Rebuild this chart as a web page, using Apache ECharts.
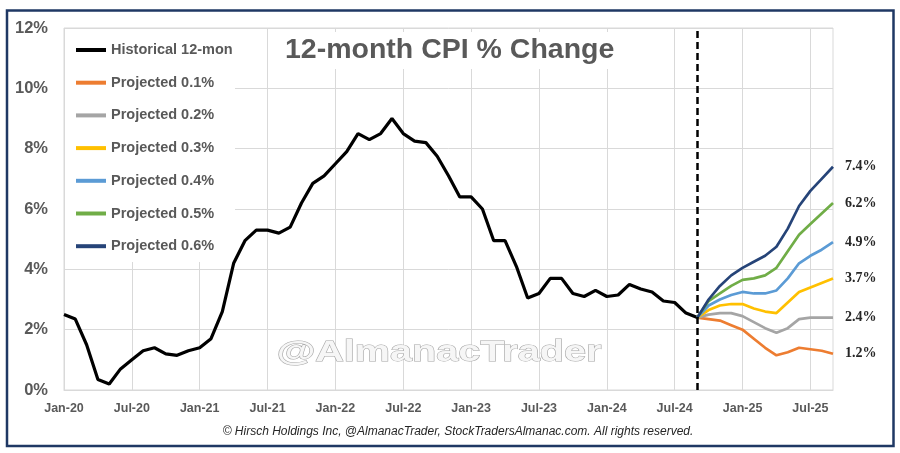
<!DOCTYPE html>
<html>
<head>
<meta charset="utf-8">
<script src="https://cdn.jsdelivr.net/npm/echarts@6/dist/echarts.min.js"></script>
<style>html,body{margin:0;padding:0;background:#fff}#c{width:900px;height:453px}</style>
</head>
<body>
<div id="c"></div>
<script>
// ---- data ----
const monthNames = ['Jan','Feb','Mar','Apr','May','Jun','Jul','Aug','Sep','Oct','Nov','Dec'];
const categories = [];
for (let y = 20; y <= 25; y++) {
  for (let m = 0; m < 12; m++) {
    if (y === 25 && m > 8) break;
    categories.push(monthNames[m] + '-' + y);
  }
}
const yTicks = [0, 2, 4, 6, 8, 10, 12];

// Historical 12-month CPI % change, Jan-20 .. Sep-24
const historical = [
  2.5, 2.35, 1.5, 0.35, 0.2, 0.7, 1.0, 1.3, 1.4, 1.2, 1.15, 1.3,
  1.4, 1.7, 2.6, 4.2, 4.95, 5.3, 5.3, 5.2, 5.4, 6.2, 6.85, 7.1,
  7.5, 7.9, 8.5, 8.3, 8.5, 9.0, 8.5, 8.25, 8.2, 7.75, 7.1, 6.4,
  6.4, 6.0, 4.95, 4.95, 4.1, 3.05, 3.2, 3.7, 3.7, 3.2, 3.1, 3.3,
  3.1, 3.15, 3.5, 3.35, 3.25, 2.95, 2.9, 2.55, 2.4
];
// Projections Sep-24 .. Sep-25
const proj01 = [2.4, 2.35, 2.3, 2.15, 2.0, 1.7, 1.4, 1.15, 1.25, 1.4, 1.35, 1.3, 1.2];
const proj02 = [2.4, 2.5, 2.55, 2.55, 2.45, 2.25, 2.05, 1.9, 2.05, 2.35, 2.4, 2.4, 2.4];
const proj03 = [2.4, 2.65, 2.8, 2.85, 2.85, 2.7, 2.6, 2.55, 2.9, 3.25, 3.4, 3.55, 3.7];
const proj04 = [2.4, 2.8, 3.0, 3.15, 3.25, 3.2, 3.2, 3.3, 3.7, 4.2, 4.45, 4.65, 4.9];
const proj05 = [2.4, 2.95, 3.2, 3.45, 3.65, 3.7, 3.8, 4.05, 4.6, 5.15, 5.5, 5.85, 6.2];
const proj06 = [2.4, 3.0, 3.45, 3.8, 4.05, 4.25, 4.45, 4.75, 5.35, 6.1, 6.6, 7.0, 7.4];
const seriesNames = ['Historical 12-mon', 'Projected 0.1%', 'Projected 0.2%', 'Projected 0.3%',
  'Projected 0.4%', 'Projected 0.5%', 'Projected 0.6%'];
const projStart = 'Sep-24';

// ---- build ----
const colors = ['#000000', '#ED7D31', '#A5A5A5', '#FFC000', '#5B9BD5', '#70AD47', '#264478'];
const startIdx = categories.indexOf(projStart);
function padProj(arr) {
  const out = new Array(categories.length).fill(null);
  arr.forEach((v, i) => { out[startIdx + i] = v; });
  return out;
}
const histData = categories.map((c, i) => i < historical.length ? historical[i] : null);
const projArrays = [proj01, proj02, proj03, proj04, proj05, proj06];

const series = [{
  name: seriesNames[0],
  type: 'line',
  data: histData,
  symbol: 'none',
  lineStyle: { color: colors[0], width: 3.2 },
  itemStyle: { color: colors[0] },
  markLine: {
    silent: true,
    symbol: ['none', 'none'],
    label: { show: false },
    lineStyle: { color: '#000', type: [7, 4], width: 2.5 },
    data: [{ xAxis: projStart }]
  }
}];
projArrays.forEach((arr, k) => {
  series.push({
    name: seriesNames[k + 1],
    type: 'line',
    data: padProj(arr),
    symbol: 'none',
    lineStyle: { color: colors[k + 1], width: 2.7 },
    itemStyle: { color: colors[k + 1] },
    endLabel: {
      show: true,
      distance: 12,
      formatter: p => Number(p.value).toFixed(1) + '%',
      color: '#262626',
      fontFamily: '"Liberation Serif", "DejaVu Serif", serif',
      fontWeight: 'bold',
      fontSize: 14
    }
  });
});

const chart = echarts.init(document.getElementById('c'), null, { renderer: 'canvas' });
chart.setOption({
  animation: false,
  backgroundColor: '#fff',
  color: colors,
  title: {
    text: '12-month CPI % Change',
    left: 275,
    top: 32,
    padding: [4, 10],
    backgroundColor: '#fff',
    textStyle: { fontFamily: '"Liberation Sans", Arial, sans-serif', fontSize: 28.5, fontWeight: 'bold', color: '#595959' }
  },
  legend: {
    orient: 'vertical',
    left: 76,
    top: 42,
    icon: 'rect',
    itemWidth: 30,
    itemHeight: 4,
    itemGap: 16.7,
    padding: 0,
    data: seriesNames,
    textStyle: { fontFamily: '"Liberation Sans", Arial, sans-serif', fontSize: 14.5, fontWeight: 'bold', color: '#595959', lineHeight: 16 }
  },
  grid: { left: 64, right: 67, top: 28, bottom: 63, show: true, borderColor: '#d9d9d9', borderWidth: 1 },
  xAxis: {
    type: 'category',
    data: categories,
    boundaryGap: false,
    axisLine: { show: true, lineStyle: { color: '#d9d9d9' } },
    axisTick: { show: false },
    axisLabel: {
      interval: 5, margin: 12, color: '#595959', fontWeight: 'bold', fontSize: 12.5,
      fontFamily: '"Liberation Sans", Arial, sans-serif'
    },
    splitLine: { show: true, interval: 5, lineStyle: { color: '#d9d9d9', width: 1 } }
  },
  yAxis: {
    type: 'value',
    min: yTicks[0],
    max: yTicks[yTicks.length - 1],
    interval: yTicks[1] - yTicks[0],
    axisLine: { show: false },
    axisTick: { show: false },
    axisLabel: {
      formatter: '{value}%', margin: 16, color: '#595959', fontWeight: 'bold', fontSize: 16.5,
      fontFamily: '"Liberation Sans", Arial, sans-serif'
    },
    splitLine: { lineStyle: { color: '#d9d9d9', width: 1 } }
  },
  graphic: [
    { type: 'rect', z: 1, silent: true, shape: { x: 65, y: 29, width: 170, height: 233 }, style: { fill: '#fff' } },
    {
      type: 'text', z: 1, silent: true, x: 439, y: 353, scaleX: 1.32,
      style: {
        text: '@AlmanacTrader', x: 0, y: 0, textAlign: 'center', textVerticalAlign: 'middle',
        font: 'bold 30px "Liberation Sans", Arial, sans-serif',
        fill: '#f6f6f6', stroke: '#a6a6a6', lineWidth: 1
      }
    },
    {
      type: 'text', silent: true, x: 458, y: 432,
      style: {
        text: '\u00A9 Hirsch Holdings Inc, @AlmanacTrader, StockTradersAlmanac.com. All rights reserved.',
        textAlign: 'center', textVerticalAlign: 'middle',
        font: 'italic 12px "Liberation Sans", Arial, sans-serif', fill: '#262626'
      }
    },
    {
      type: 'rect', silent: true, z: 10,
      shape: { x: 7, y: 10.5, width: 886.5, height: 435.5 },
      style: { fill: 'none', stroke: '#1F3864', lineWidth: 2.5 }
    }
  ],
  series: series
});
</script>
</body>
</html>
